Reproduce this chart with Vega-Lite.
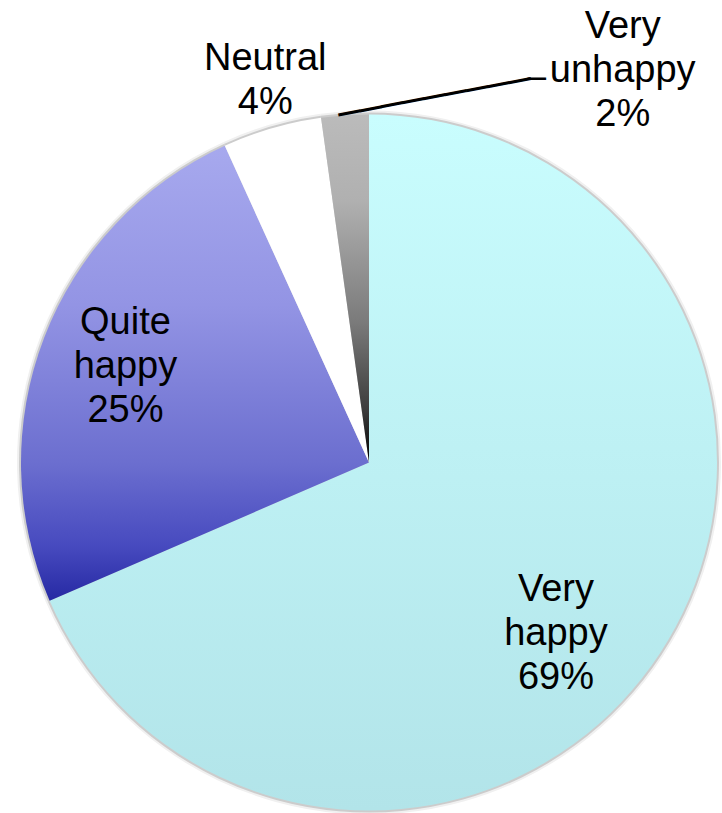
{
  "$schema": "https://vega.github.io/schema/vega-lite/v6.json",
  "width": 738,
  "height": 925,
  "autosize": {"type": "none"},
  "padding": 0,
  "background": "white",
  "config": {"view": {"stroke": null}},
  "data": {
    "values": [
      {"cat": "Very happy", "value": 68.5, "ord": 1, "label": "Very\nhappy\n69%"},
      {"cat": "Quite happy", "value": 24.7, "ord": 2, "label": "Quite\nhappy\n25%"},
      {"cat": "Neutral", "value": 4.6, "ord": 3, "label": "Neutral\n4%"},
      {"cat": "Very unhappy", "value": 2.2, "ord": 4, "label": "Very\nunhappy\n2%"}
    ]
  },
  "encoding": {
    "theta": {"field": "value", "type": "quantitative", "stack": true},
    "order": {"field": "ord", "type": "quantitative"}
  },
  "layer": [
    {
      "mark": {"type": "arc", "outerRadius": 352, "fill": "#f0f0f0", "stroke": null}
    },
    {
      "mark": {"type": "arc", "outerRadius": 350, "fill": "#cccccc", "stroke": null}
    },
    {
      "mark": {"type": "arc", "outerRadius": 348, "stroke": null},
      "encoding": {
        "fill": {
          "condition": [
            {"test": "datum.cat === 'Very happy'", "value": {"gradient": "linear", "x1": 0, "y1": 0, "x2": 0, "y2": 1, "stops": [{"offset": 0, "color": "#C9FDFE"}, {"offset": 1, "color": "#B2E4E9"}]}},
            {"test": "datum.cat === 'Quite happy'", "value": {"gradient": "linear", "x1": 0, "y1": 0, "x2": 0, "y2": 1, "stops": [{"offset": 0, "color": "#A7A9EE"}, {"offset": 0.35, "color": "#9394E4"}, {"offset": 0.7, "color": "#6B6ECF"}, {"offset": 0.88, "color": "#474ABF"}, {"offset": 1, "color": "#2629A3"}]}},
            {"test": "datum.cat === 'Very unhappy'", "value": {"gradient": "linear", "x1": 0, "y1": 0, "x2": 0, "y2": 1, "stops": [{"offset": 0, "color": "#BBBBBB"}, {"offset": 0.25, "color": "#B0B0B0"}, {"offset": 0.6, "color": "#7A7A7A"}, {"offset": 0.85, "color": "#3C3C3C"}, {"offset": 1, "color": "#000000"}]}}
          ],
          "value": "#FFFFFF"
        }
      }
    },
    {
      "mark": {"type": "text", "radius": 250, "dx": -22, "dy": -10, "font": "Liberation Sans", "fontSize": 38, "lineHeight": 44, "lineBreak": "\n", "align": "center", "baseline": "middle", "color": "black"},
      "encoding": {"text": {"condition": {"test": "datum.cat === 'Very happy'", "field": "label"}, "value": ""}}
    },
    {
      "mark": {"type": "text", "radius": 261, "dx": 0, "dy": -46, "font": "Liberation Sans", "fontSize": 38, "lineHeight": 44, "lineBreak": "\n", "align": "center", "baseline": "middle", "color": "black"},
      "encoding": {"text": {"condition": {"test": "datum.cat === 'Quite happy'", "field": "label"}, "value": ""}}
    },
    {
      "mark": {"type": "text", "radius": 397, "dx": 7, "dy": -22, "font": "Liberation Sans", "fontSize": 38, "lineHeight": 44, "lineBreak": "\n", "align": "center", "baseline": "middle", "color": "black"},
      "encoding": {"text": {"condition": {"test": "datum.cat === 'Neutral'", "field": "label"}, "value": ""}}
    },
    {
      "mark": {"type": "text", "radius": 395, "dx": 281, "dy": -41, "font": "Liberation Sans", "fontSize": 38, "lineHeight": 44, "lineBreak": "\n", "align": "center", "baseline": "middle", "color": "black"},
      "encoding": {"text": {"condition": {"test": "datum.cat === 'Very unhappy'", "field": "label"}, "value": ""}}
    },
    {
      "mark": {"type": "text", "radius": 370, "dx": 89, "dy": 21.5, "angle": 349.3, "font": "DejaVu Sans", "fontSize": 36, "align": "center", "baseline": "middle", "color": "black"},
      "encoding": {"text": {"condition": {"test": "datum.cat === 'Very unhappy'", "value": "─────────"}, "value": ""}}
    },
    {
      "mark": {"type": "text", "radius": 370, "dx": 193, "dy": -13.4, "font": "DejaVu Sans", "fontSize": 30, "align": "center", "baseline": "middle", "color": "black"},
      "encoding": {"text": {"condition": {"test": "datum.cat === 'Very unhappy'", "value": "─"}, "value": ""}}
    }
  ]
}
